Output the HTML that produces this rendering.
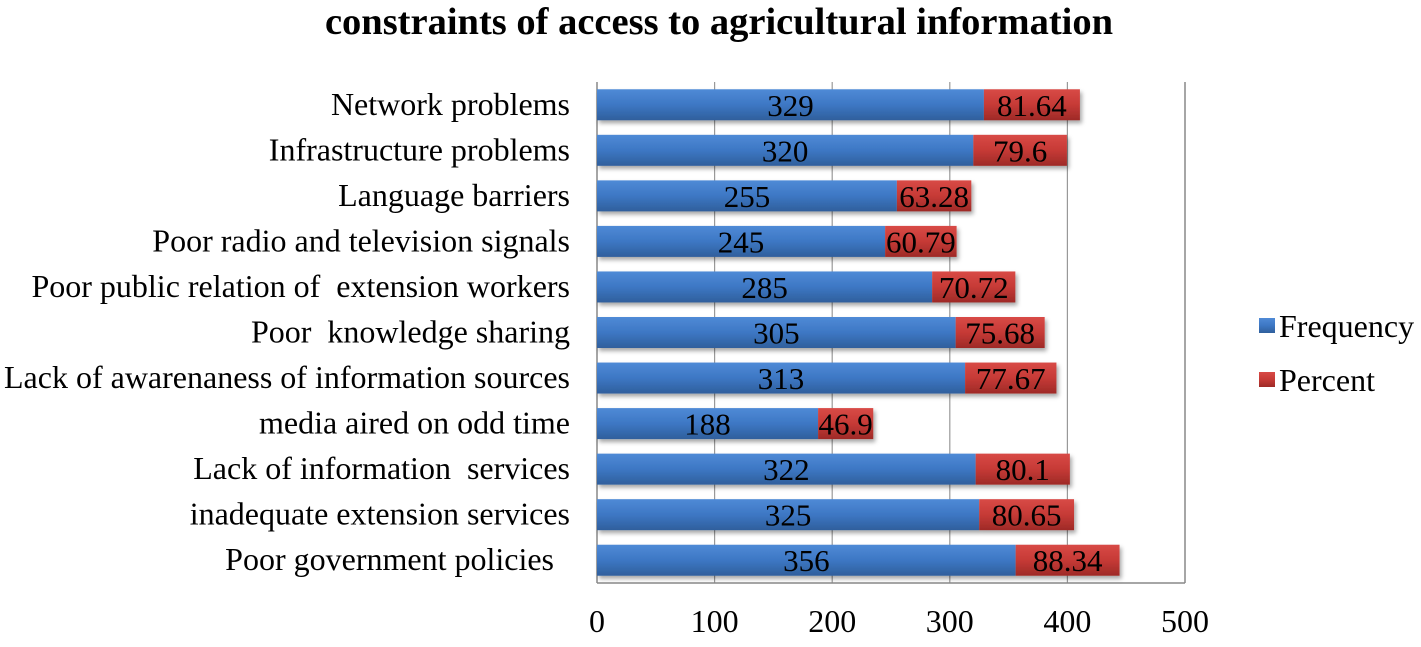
<!DOCTYPE html>
<html><head><meta charset="utf-8"><style>
body{margin:0;background:#fff;}
svg text{font-family:"Liberation Serif",serif;white-space:pre;}
</style></head><body>
<svg width="1421" height="642" xmlns="http://www.w3.org/2000/svg">
<defs>
<linearGradient id="gb" x1="0" y1="0" x2="0" y2="1"><stop offset="0" stop-color="#4f8ad6"/><stop offset="0.5" stop-color="#3d77c4"/><stop offset="1" stop-color="#2f5f9c"/></linearGradient>
<linearGradient id="gr" x1="0" y1="0" x2="0" y2="1"><stop offset="0" stop-color="#d84a46"/><stop offset="0.5" stop-color="#c63a36"/><stop offset="1" stop-color="#9e2a27"/></linearGradient>
<filter id="sh" x="-5%" y="-20%" width="110%" height="160%"><feDropShadow dx="2" dy="3" stdDeviation="2" flood-color="#000" flood-opacity="0.35"/></filter>
</defs>
<text x="719" y="34" text-anchor="middle" font-size="38.5" font-weight="bold">constraints of access to agricultural information</text>
<g id="grid"></g>
<g id="bars"></g>
<g id="labels"></g>
<rect x="1259" y="318" width="16" height="15" fill="url(#gb)"/>
<text x="1279" y="337" font-size="32">Frequency</text>
<rect x="1259" y="372" width="16" height="15" fill="url(#gr)"/>
<text x="1279" y="391" font-size="32">Percent</text>
</svg>
<script>
const categories=["Network problems","Infrastructure problems","Language barriers","Poor radio and television signals","Poor public relation of  extension workers","Poor  knowledge sharing","Lack of awarenaness of information sources","media aired on odd time","Lack of information  services","inadequate extension services","Poor government policies  "];
const frequency=[329,320,255,245,285,305,313,188,322,325,356];
const percent=[81.64,79.6,63.28,60.79,70.72,75.68,77.67,46.9,80.1,80.65,88.34];
const ticks=[0,100,200,300,400,500];
const NS="http://www.w3.org/2000/svg";
const x0=597,x1=1185,yTop=82,yBot=583,band=(yBot-yTop)/categories.length,bh=31;
const X=v=>x0+(v/500)*(x1-x0);
const Y=i=>yTop+band*i+band/2;
function mk(t,a,p,txt){const e=document.createElementNS(NS,t);for(const k in a)e.setAttribute(k,a[k]);if(txt!==undefined)e.textContent=txt;p.appendChild(e);return e;}
const grid=document.getElementById('grid'),bars=document.getElementById('bars'),labels=document.getElementById('labels');
ticks.forEach(t=>{
 const l=mk('line',{x1:X(t),x2:X(t),y1:yTop,y2:yBot,stroke:t===0||t===500?'#888':'#999','stroke-width':t===0||t===500?1.5:1.2},grid);
 
 
 const tx=mk('text',{x:X(t),y:632,'text-anchor':'middle','font-size':32},labels,String(t));
 
 
});
const ax=mk('line',{x1:x0,x2:x1,y1:yBot,y2:yBot,stroke:'#888','stroke-width':1.5},grid);


categories.forEach((c,i)=>{
 const y=Y(i);
 const g=mk('g',{filter:'url(#sh)'},bars);
 const b=mk('rect',{x:x0,y:y-bh/2,width:X(frequency[i])-x0,height:bh,fill:'url(#gb)'},g);
 
 
 const r=mk('rect',{x:X(frequency[i]),y:y-bh/2,width:X(frequency[i]+percent[i])-X(frequency[i]),height:bh,fill:'url(#gr)'},g);
 
 
 const t1=mk('text',{x:(x0+X(frequency[i]))/2,y:y+11,'text-anchor':'middle','font-size':31},labels,String(frequency[i]));
 
 
 const t2=mk('text',{x:(X(frequency[i])+X(frequency[i]+percent[i]))/2,y:y+11,'text-anchor':'middle','font-size':31},labels,String(percent[i]));
 
 
 const cl=mk('text',{x:570,y:y+10,'text-anchor':'end','font-size':32},labels,c);
 
 
});
</script>
</body></html>
